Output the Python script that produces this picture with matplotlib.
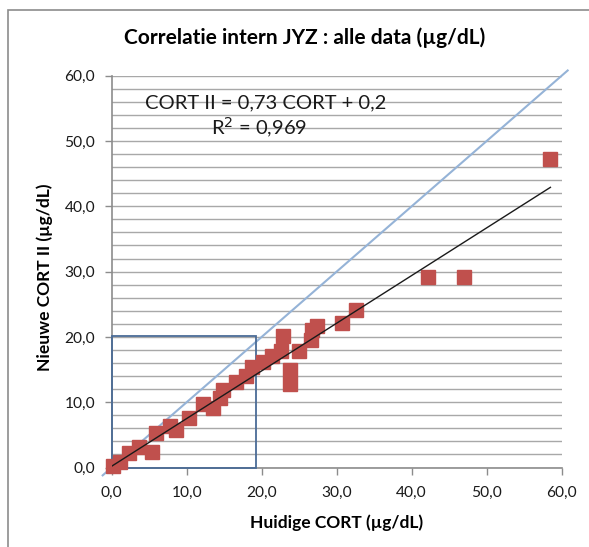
import matplotlib.pyplot as plt
import numpy as np
from matplotlib.patches import Rectangle
from matplotlib.ticker import MultipleLocator, FuncFormatter

plt.rcParams["font.family"] = ["Lato", "DejaVu Sans"]

# data (µg/dL)
huidige = [0.2, 1.1, 2.3, 3.6, 5.4, 5.9, 7.8, 8.6, 10.3, 12.2, 13.5, 14.4, 14.9,
           16.6, 17.9, 18.7, 20.2, 21.4, 22.6, 22.8, 23.8, 23.8, 25.0, 26.6,
           26.7, 27.4, 30.7, 32.6, 42.2, 47.0, 58.5]
nieuwe = [0.2, 0.8, 2.2, 3.1, 2.4, 5.3, 6.4, 5.7, 7.6, 9.7, 9.1, 10.6, 11.9,
          13.1, 14.0, 15.4, 16.2, 17.1, 17.8, 20.1, 14.9, 12.8, 17.8, 19.5,
          21.1, 21.7, 22.1, 24.1, 29.2, 29.2, 47.2]
slope = 0.73
intercept = 0.2
r2 = "0,969"

fig = plt.figure(figsize=(5.89, 5.47), dpi=100)
ax = fig.add_axes([0.1896, 0.1453, 0.764, 0.7163])

# chart border (only left/top visible)
fig.patches.append(Rectangle((8 / 589, -0.1), 1.2, 1 - 10 / 547 + 0.1,
                             transform=fig.transFigure, fill=False,
                             edgecolor="#8c8c8c", lw=1.2))

ax.set_xlim(0, 60)
ax.set_ylim(0, 60)

ax.yaxis.set_major_locator(MultipleLocator(10))
ax.yaxis.set_minor_locator(MultipleLocator(2))
ax.xaxis.set_major_locator(MultipleLocator(10))
ax.grid(True, axis="y", which="both", color="#a8a8a8", lw=1.0)
ax.set_axisbelow(True)

fmt = FuncFormatter(lambda v, p: f"{v:.1f}".replace(".", ","))
ax.xaxis.set_major_formatter(fmt)
ax.yaxis.set_major_formatter(fmt)
ax.tick_params(axis="both", which="major", length=5, width=1, color="#8c8c8c",
               labelsize=11.2, labelcolor="#1a1a1a")
ax.tick_params(axis="x", which="major", pad=8)
ax.tick_params(axis="y", which="major", pad=7)
ax.tick_params(axis="y", which="minor", length=0)

for s in ["top", "right"]:
    ax.spines[s].set_visible(False)
for s in ["left", "bottom"]:
    ax.spines[s].set_color("#8c8c8c")
    ax.spines[s].set_linewidth(1.2)

# y = x reference line
ref = np.array([-1.2, 60.8])
ax.plot(ref, ref, color="#95b3d7", lw=1.5, clip_on=False, zorder=2)

# zoom box
ax.add_patch(Rectangle((0, 0), 19.3, 20.2, fill=False, edgecolor="#4a6b96",
                       lw=1.3, zorder=3, clip_on=False))

ax.plot(huidige, nieuwe, "s", color="#c0504d", markersize=10.5, zorder=4,
        clip_on=False)

tx = np.array([0, max(huidige)])
ax.plot(tx, slope * tx + intercept, color="#1a1a1a", lw=1.0, zorder=5)

fig.text(266 / 589, 1 - 103 / 547, "CORT II = 0,73 CORT + 0,2", ha="center",
         va="center", fontsize=14.5, color="#1a1a1a")
fig.text(259 / 589, 1 - 128 / 547, "R$^2$ = " + r2, ha="center", va="center",
         fontsize=14.5, color="#1a1a1a")

fig.text(305 / 589, 1 - 38 / 547, "Correlatie intern JYZ : alle data (µg/dL)",
         ha="center", va="center", fontsize=15, fontweight="bold")
fig.text(45 / 589, 1 - 277 / 547, "Nieuwe CORT II (µg/dL)", rotation=90,
         ha="center", va="center", fontsize=12.5, fontweight="bold")
fig.text(337 / 589, 1 - 523 / 547, "Huidige CORT (µg/dL)", ha="center",
         va="center", fontsize=12.5, fontweight="bold")

fig.savefig("out.png", dpi=100)
